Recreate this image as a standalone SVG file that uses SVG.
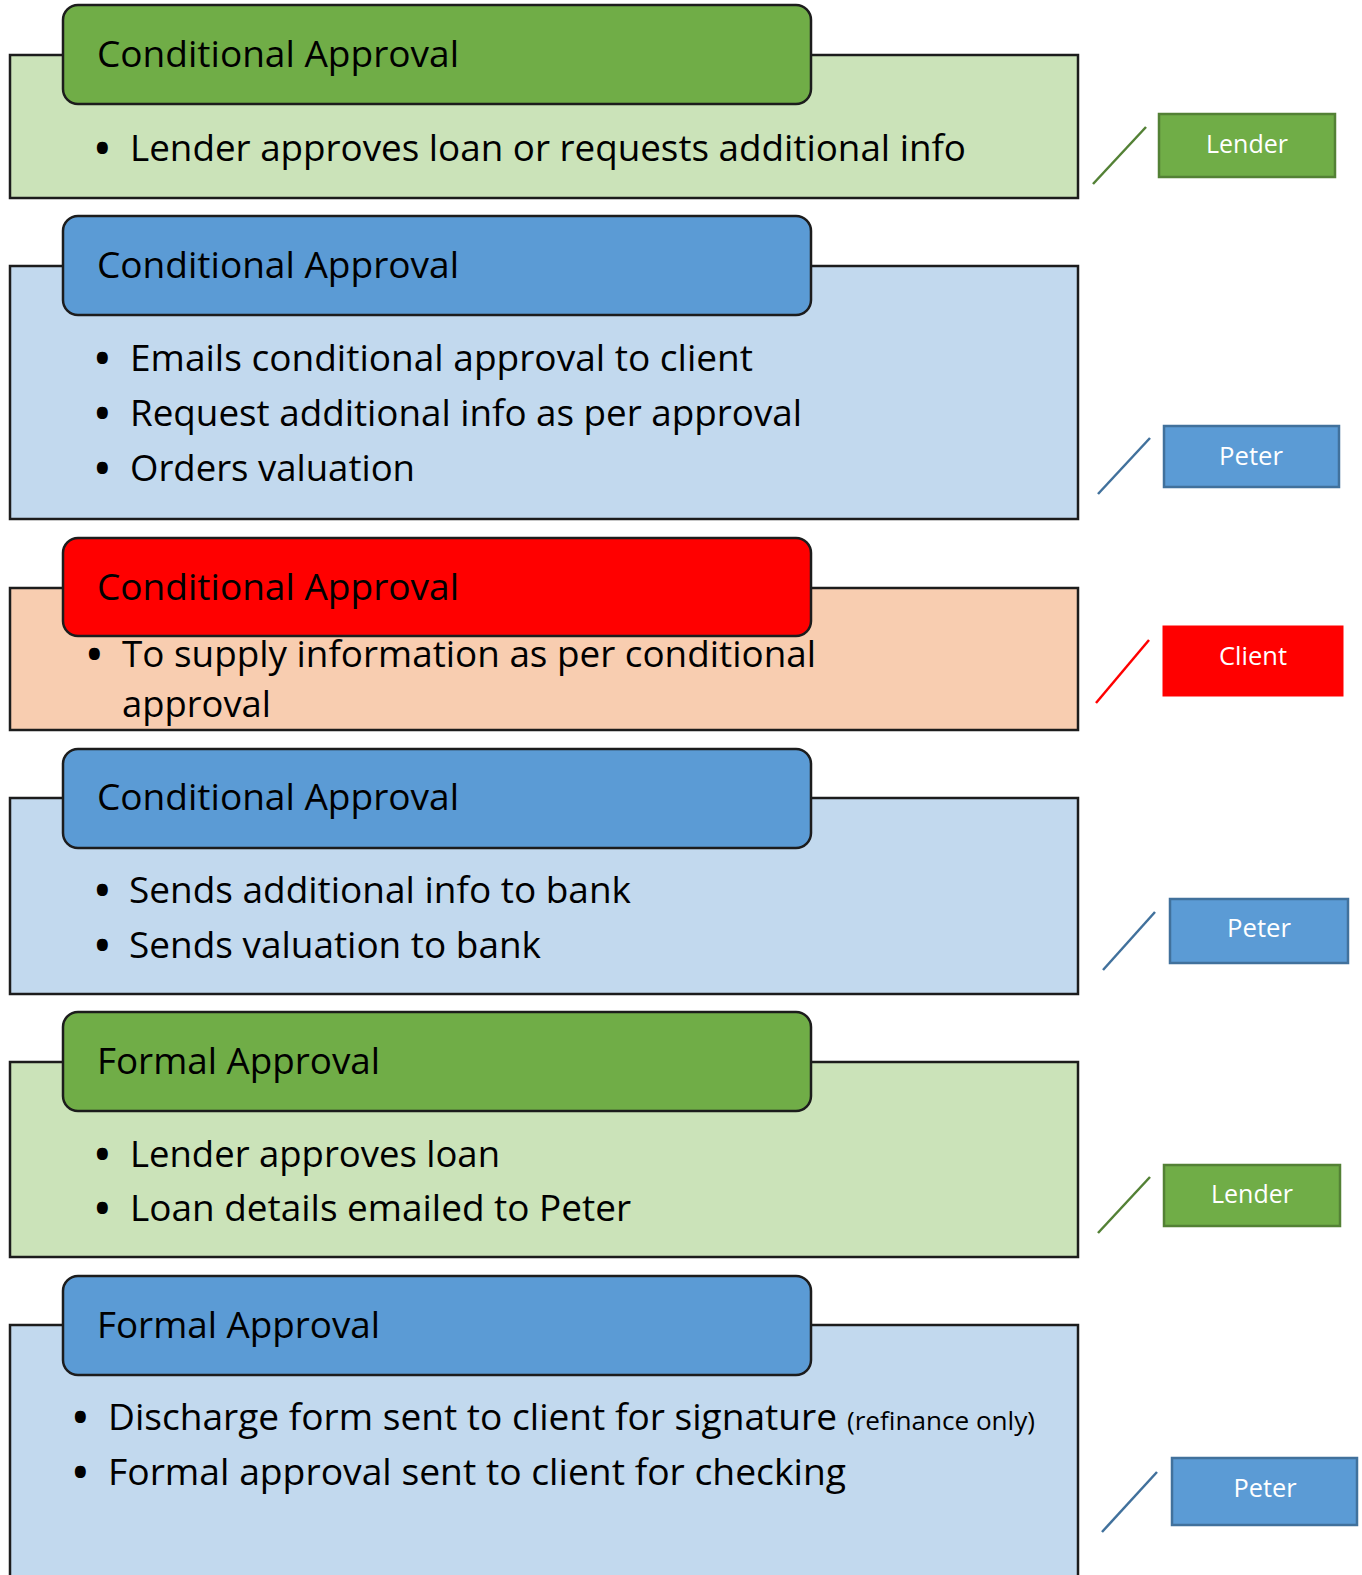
<svg xmlns="http://www.w3.org/2000/svg" width="1362" height="1575" viewBox="0 0 1362 1575">
<style>
.outer{stroke:#1c1c1c;stroke-width:2.5}
.hdr{stroke:#1c1c1c;stroke-width:2.5}
.g-o{fill:#CBE3B9}.b-o{fill:#C2D9EE}.p-o{fill:#F8CDB0}
.g-h{fill:#70AD47}.b-h{fill:#5B9BD5}.r-h{fill:#FF0000}
.t{font-family:"Open Sans","Noto Sans","Liberation Sans",sans-serif;fill:#000}
.ht{font-size:37px}
.bt{font-size:37px}
.bu{font-size:39px;font-weight:bold}
.sm{font-size:25px}
.rt{font-family:"Open Sans","Noto Sans","Liberation Sans",sans-serif;font-size:26px;fill:#fff;text-anchor:middle}
.rg{fill:#70AD47;stroke:#538135;stroke-width:2.5}
.rb{fill:#5B9BD5;stroke:#41719C;stroke-width:2.5}
.rr{fill:#FF0000;stroke:#FF0000;stroke-width:1}
.cg{stroke:#538135;stroke-width:2.5}
.cb{stroke:#41719C;stroke-width:2.5}
.cr{stroke:#FF0000;stroke-width:2.5}
</style>

<g id="panel1">
<rect class="outer g-o" x="10" y="55" width="1068" height="143"/>
<rect class="hdr g-h" x="63" y="5" width="748" height="99" rx="15"/>
<text class="t ht" x="97" y="67" textLength="362" lengthAdjust="spacingAndGlyphs">Conditional Approval</text>
<text class="t bu" x="95" y="162">•</text>
<text class="t bt" x="130" y="161" textLength="836" lengthAdjust="spacingAndGlyphs">Lender approves loan or requests additional info</text>
</g>

<g id="panel2">
<rect class="outer b-o" x="10" y="266" width="1068" height="253"/>
<rect class="hdr b-h" x="63" y="216" width="748" height="99" rx="15"/>
<text class="t ht" x="97" y="278" textLength="362" lengthAdjust="spacingAndGlyphs">Conditional Approval</text>
<text class="t bu" x="95" y="372">•</text>
<text class="t bt" x="130" y="371" textLength="623" lengthAdjust="spacingAndGlyphs">Emails conditional approval to client</text>
<text class="t bu" x="95" y="427">•</text>
<text class="t bt" x="130" y="426" textLength="672" lengthAdjust="spacingAndGlyphs">Request additional info as per approval</text>
<text class="t bu" x="95" y="482">•</text>
<text class="t bt" x="130" y="481" textLength="285" lengthAdjust="spacingAndGlyphs">Orders valuation</text>
</g>

<g id="panel3">
<rect class="outer p-o" x="10" y="588" width="1068" height="142"/>
<rect class="hdr r-h" x="63" y="538" width="748" height="98" rx="15"/>
<text class="t ht" x="97" y="600" textLength="362" lengthAdjust="spacingAndGlyphs">Conditional Approval</text>
<text class="t bu" x="87" y="668">•</text>
<text class="t bt" x="122" y="667" textLength="694" lengthAdjust="spacingAndGlyphs">To supply information as per conditional</text>
<text class="t bt" x="122" y="717" textLength="149" lengthAdjust="spacingAndGlyphs">approval</text>
</g>

<g id="panel4">
<rect class="outer b-o" x="10" y="798" width="1068" height="196"/>
<rect class="hdr b-h" x="63" y="749" width="748" height="99" rx="15"/>
<text class="t ht" x="97" y="810" textLength="362" lengthAdjust="spacingAndGlyphs">Conditional Approval</text>
<text class="t bu" x="95" y="904">•</text>
<text class="t bt" x="129" y="903" textLength="502" lengthAdjust="spacingAndGlyphs">Sends additional info to bank</text>
<text class="t bu" x="95" y="959">•</text>
<text class="t bt" x="129" y="958" textLength="412" lengthAdjust="spacingAndGlyphs">Sends valuation to bank</text>
</g>

<g id="panel5">
<rect class="outer g-o" x="10" y="1062" width="1068" height="195"/>
<rect class="hdr g-h" x="63" y="1012" width="748" height="99" rx="15"/>
<text class="t ht" x="97" y="1074" textLength="283" lengthAdjust="spacingAndGlyphs">Formal Approval</text>
<text class="t bu" x="95" y="1168">•</text>
<text class="t bt" x="130" y="1167" textLength="370" lengthAdjust="spacingAndGlyphs">Lender approves loan</text>
<text class="t bu" x="95" y="1222">•</text>
<text class="t bt" x="130" y="1221" textLength="501" lengthAdjust="spacingAndGlyphs">Loan details emailed to Peter</text>
</g>

<g id="panel6">
<rect class="outer b-o" x="10" y="1325" width="1068" height="260"/>
<rect class="hdr b-h" x="63" y="1276" width="748" height="99" rx="15"/>
<text class="t ht" x="97" y="1338" textLength="283" lengthAdjust="spacingAndGlyphs">Formal Approval</text>
<text class="t bu" x="73" y="1431">•</text>
<text class="t bt" x="108" y="1430" textLength="729" lengthAdjust="spacingAndGlyphs">Discharge form sent to client for signature</text>
<text class="t sm" x="847" y="1430" textLength="188" lengthAdjust="spacingAndGlyphs">(refinance only)</text>
<text class="t bu" x="73" y="1486">•</text>
<text class="t bt" x="108" y="1485" textLength="738" lengthAdjust="spacingAndGlyphs">Formal approval sent to client for checking</text>
</g>

<g id="role-lender-1">
<rect class="rg" x="1159" y="114" width="176" height="63"/>
<text class="rt" x="1247" y="153" textLength="82" lengthAdjust="spacingAndGlyphs">Lender</text>
</g>
<g id="role-peter-1">
<rect class="rb" x="1164" y="426" width="175" height="61"/>
<text class="rt" x="1251" y="465" textLength="64" lengthAdjust="spacingAndGlyphs">Peter</text>
</g>
<g id="role-client">
<rect class="rr" x="1163" y="626" width="180" height="70"/>
<text class="rt" x="1253" y="665" textLength="68" lengthAdjust="spacingAndGlyphs">Client</text>
</g>
<g id="role-peter-2">
<rect class="rb" x="1170" y="899" width="178" height="64"/>
<text class="rt" x="1259" y="937" textLength="64" lengthAdjust="spacingAndGlyphs">Peter</text>
</g>
<g id="role-lender-2">
<rect class="rg" x="1164" y="1165" width="176" height="61"/>
<text class="rt" x="1252" y="1203" textLength="82" lengthAdjust="spacingAndGlyphs">Lender</text>
</g>
<g id="role-peter-3">
<rect class="rb" x="1172" y="1458" width="185" height="67"/>
<text class="rt" x="1265" y="1497" textLength="63" lengthAdjust="spacingAndGlyphs">Peter</text>
</g>

<g id="connectors">
<line class="cg" x1="1093" y1="184" x2="1146" y2="127"/>
<line class="cb" x1="1098" y1="494" x2="1150" y2="438"/>
<line class="cr" x1="1096" y1="703" x2="1149" y2="640"/>
<line class="cb" x1="1103" y1="970" x2="1155" y2="912"/>
<line class="cg" x1="1098" y1="1233" x2="1150" y2="1177"/>
<line class="cb" x1="1102" y1="1532" x2="1157" y2="1472"/>
</g>
</svg>
